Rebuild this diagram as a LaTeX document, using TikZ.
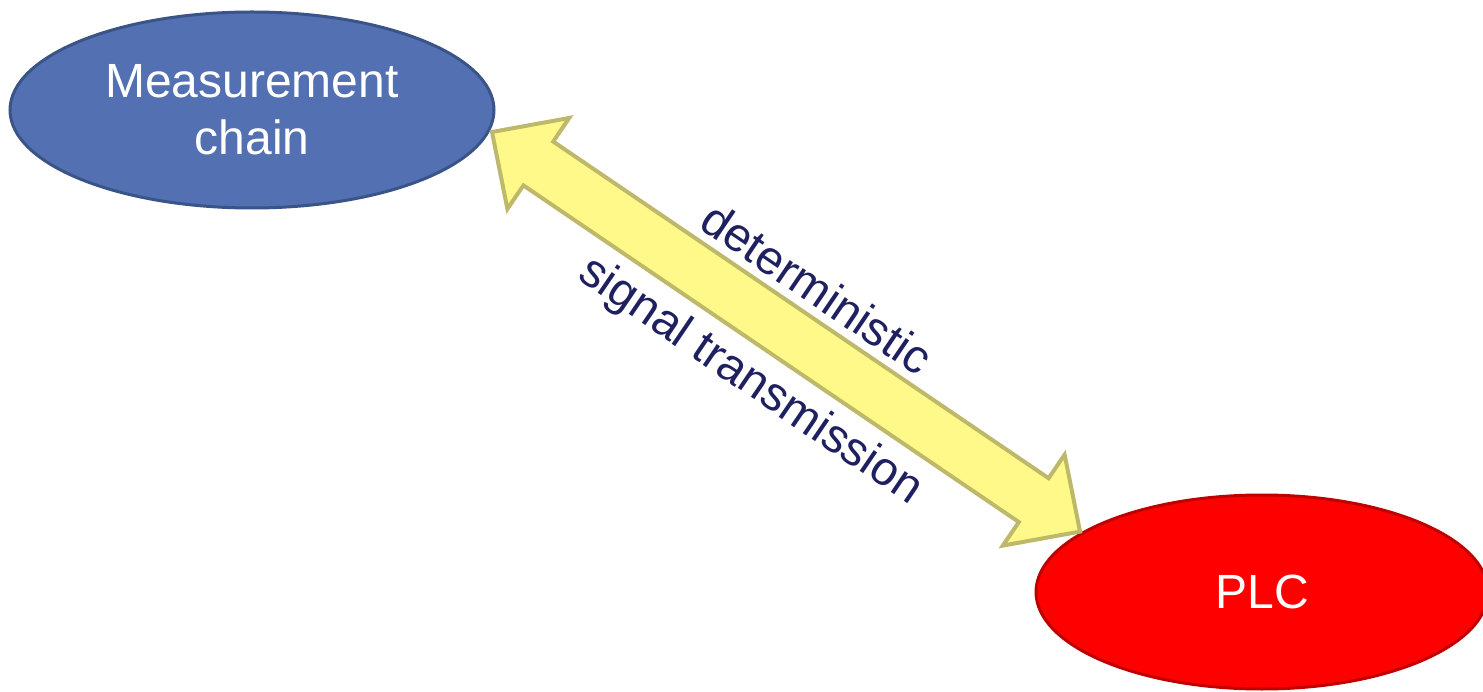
\documentclass[tikz,border=0pt]{standalone}
\usepackage{fontspec}
\setmainfont{Liberation Sans}
\usetikzlibrary{shapes.geometric,calc}
\definecolor{mcfill}{RGB}{82,112,178}
\definecolor{mcline}{RGB}{58,84,136}
\definecolor{plcfill}{RGB}{255,0,0}
\definecolor{plcline}{RGB}{192,0,0}
\definecolor{arrfill}{RGB}{255,249,138}
\definecolor{arrline}{RGB}{190,185,106}
\definecolor{txtnavy}{RGB}{31,32,96}
\tikzset{
  blob/.style={ellipse, inner sep=0pt, line width=3pt, text=white,
    align=center, font=\fontsize{48}{57}\selectfont},
  blockarrow/.style={fill=arrfill, draw=arrline, line width=4pt},
  arrlabel/.style={text=txtnavy, font=\fontsize{47.5}{56}\selectfont,
    rotate=-34.2, inner sep=0pt}
}
\begin{document}
\begin{tikzpicture}[x=1pt,y=-1pt]
\useasboundingbox (0,0) rectangle (1483,692);
\node[blob, fill=mcfill, draw=mcline, minimum width=484pt, minimum height=196pt]
  (mc) at (252,110) {Measurement\\chain};
\node[blob, fill=plcfill, draw=plcline, minimum width=452pt, minimum height=194pt]
  (plc) at (1262,592) {PLC};
\coordinate (tA) at (492,132);
\coordinate (tB) at (1080,532);
\begin{scope}[shift={(tA)}, rotate=-34.2]
\draw[blockarrow] (0,0) -- (56,55) -- (56,26.5) -- (655,26.5) -- (655,55)
  -- (711,0) -- (655,-55) -- (655,-26.5) -- (56,-26.5) -- (56,-55) -- cycle;
\end{scope}
\node[arrlabel] (det) at (817,288) {deterministic};
\node[arrlabel] (sig) at (750,382) {signal transmission};
\end{tikzpicture}
\end{document}
